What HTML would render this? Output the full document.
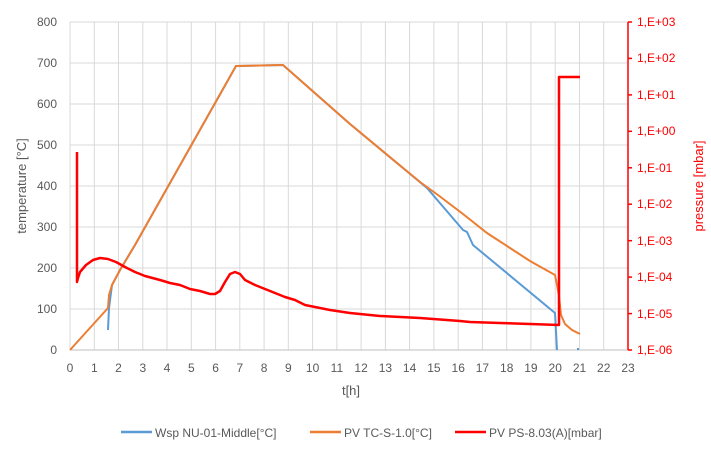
<!DOCTYPE html>
<html><head><meta charset="utf-8"><style>
body{margin:0;background:#fff}
svg{display:block;font-family:"Liberation Sans",sans-serif}
</style></head><body>
<svg width="711" height="459" viewBox="0 0 711 459">
<rect width="711" height="459" fill="#fff"/>
<g stroke="#d9d9d9" stroke-width="1">
<line x1="70" y1="22" x2="628" y2="22"/><line x1="70" y1="63" x2="628" y2="63"/><line x1="70" y1="104" x2="628" y2="104"/><line x1="70" y1="145" x2="628" y2="145"/><line x1="70" y1="186" x2="628" y2="186"/><line x1="70" y1="227" x2="628" y2="227"/><line x1="70" y1="268" x2="628" y2="268"/><line x1="70" y1="309" x2="628" y2="309"/>
<line x1="70" y1="22" x2="70" y2="350"/><line x1="94.3" y1="22" x2="94.3" y2="350"/><line x1="118.5" y1="22" x2="118.5" y2="350"/><line x1="142.8" y1="22" x2="142.8" y2="350"/><line x1="167" y1="22" x2="167" y2="350"/><line x1="191.3" y1="22" x2="191.3" y2="350"/><line x1="215.6" y1="22" x2="215.6" y2="350"/><line x1="239.8" y1="22" x2="239.8" y2="350"/><line x1="264.1" y1="22" x2="264.1" y2="350"/><line x1="288.3" y1="22" x2="288.3" y2="350"/><line x1="312.6" y1="22" x2="312.6" y2="350"/><line x1="336.9" y1="22" x2="336.9" y2="350"/><line x1="361.1" y1="22" x2="361.1" y2="350"/><line x1="385.4" y1="22" x2="385.4" y2="350"/><line x1="409.6" y1="22" x2="409.6" y2="350"/><line x1="433.9" y1="22" x2="433.9" y2="350"/><line x1="458.2" y1="22" x2="458.2" y2="350"/><line x1="482.4" y1="22" x2="482.4" y2="350"/><line x1="506.7" y1="22" x2="506.7" y2="350"/><line x1="530.9" y1="22" x2="530.9" y2="350"/><line x1="555.2" y1="22" x2="555.2" y2="350"/><line x1="579.5" y1="22" x2="579.5" y2="350"/><line x1="603.7" y1="22" x2="603.7" y2="350"/>
</g>
<line x1="70" y1="350" x2="628" y2="350" stroke="#bfbfbf"/>
<line x1="628" y1="22" x2="628" y2="350" stroke="#ff0000" stroke-width="1.5"/>
<g stroke="#ff0000" stroke-width="1.5">
<line x1="628" y1="22" x2="632" y2="22"/><line x1="628" y1="58.4" x2="632" y2="58.4"/><line x1="628" y1="94.9" x2="632" y2="94.9"/><line x1="628" y1="131.3" x2="632" y2="131.3"/><line x1="628" y1="167.8" x2="632" y2="167.8"/><line x1="628" y1="204.2" x2="632" y2="204.2"/><line x1="628" y1="240.7" x2="632" y2="240.7"/><line x1="628" y1="277.1" x2="632" y2="277.1"/><line x1="628" y1="313.6" x2="632" y2="313.6"/><line x1="628" y1="350" x2="632" y2="350"/>
</g>
<g font-size="12" fill="#595959" text-anchor="end">
<text x="57" y="26">800</text><text x="57" y="67">700</text><text x="57" y="108">600</text><text x="57" y="149">500</text><text x="57" y="190">400</text><text x="57" y="231">300</text><text x="57" y="272">200</text><text x="57" y="313">100</text><text x="57" y="354">0</text>
</g>
<g font-size="12" fill="#ff0000">
<text x="637" y="26">1,E+03</text><text x="637" y="62">1,E+02</text><text x="637" y="99">1,E+01</text><text x="637" y="135">1,E+00</text><text x="637" y="172">1,E-01</text><text x="637" y="208">1,E-02</text><text x="637" y="245">1,E-03</text><text x="637" y="281">1,E-04</text><text x="637" y="318">1,E-05</text><text x="637" y="354">1,E-06</text>
</g>
<g font-size="12" fill="#595959" text-anchor="middle">
<text x="70" y="372">0</text><text x="94.3" y="372">1</text><text x="118.5" y="372">2</text><text x="142.8" y="372">3</text><text x="167" y="372">4</text><text x="191.3" y="372">5</text><text x="215.6" y="372">6</text><text x="239.8" y="372">7</text><text x="264.1" y="372">8</text><text x="288.3" y="372">9</text><text x="312.6" y="372">10</text><text x="336.9" y="372">11</text><text x="361.1" y="372">12</text><text x="385.4" y="372">13</text><text x="409.6" y="372">14</text><text x="433.9" y="372">15</text><text x="458.2" y="372">16</text><text x="482.4" y="372">17</text><text x="506.7" y="372">18</text><text x="530.9" y="372">19</text><text x="555.2" y="372">20</text><text x="579.5" y="372">21</text><text x="603.7" y="372">22</text><text x="628" y="372">23</text>
<text x="351" y="395" font-size="13">t[h]</text>
<text transform="translate(26,186) rotate(-90)" font-size="13">temperature [°C]</text>
</g>
<text transform="translate(703,186) rotate(-90)" font-size="13" fill="#ff0000" text-anchor="middle">pressure [mbar]</text>
<polyline fill="none" stroke="#5b9bd5" stroke-width="2" points="108,330 109,308 112,285 120,270 135,245 236,66 283,65 350,124 427,188 463,230 467,232 473,245 555,313 557,350"/>
<line x1="578" y1="348" x2="578" y2="350" stroke="#5b9bd5" stroke-width="2"/>
<polyline fill="none" stroke="#ed7d31" stroke-width="2" points="70,350 108,308 109,295 112,285 120,270 135,245 236,66 283,65 350,124 420,182 438,195 463,214 487,233 510,248 530,261 555,275 557,285 559,296 561,315 565,324 572,330 580,334"/>
<polyline fill="none" stroke="#ff0000" stroke-width="2.5" stroke-linejoin="round" points="77,152 77,282 78,278 80,272 86,265 93,260 100,258 108,259 116,262 125,267 135,272 145,276 160,280 170,283 180,285 190,289 200,291 210,294 215,294 220,291 225,282 230,274 235,272 240,274 245,280 255,285 265,289 275,293 285,297 295,300 305,305 315,307 330,310 350,313 380,316 420,318 460,321 470,322 500,323 530,324 559,325 559,77 580,77"/>
<g font-size="12" fill="#595959">
<line x1="121" y1="432" x2="152" y2="432" stroke="#5b9bd5" stroke-width="2.5"/><text x="155" y="437">Wsp NU-01-Middle[°C]</text>
<line x1="310" y1="432" x2="341" y2="432" stroke="#ed7d31" stroke-width="2.5"/><text x="344" y="437">PV TC-S-1.0[°C]</text>
<line x1="455" y1="432" x2="486" y2="432" stroke="#ff0000" stroke-width="2.5"/><text x="489" y="437">PV PS-8.03(A)[mbar]</text>
</g>
</svg>
</body></html>
